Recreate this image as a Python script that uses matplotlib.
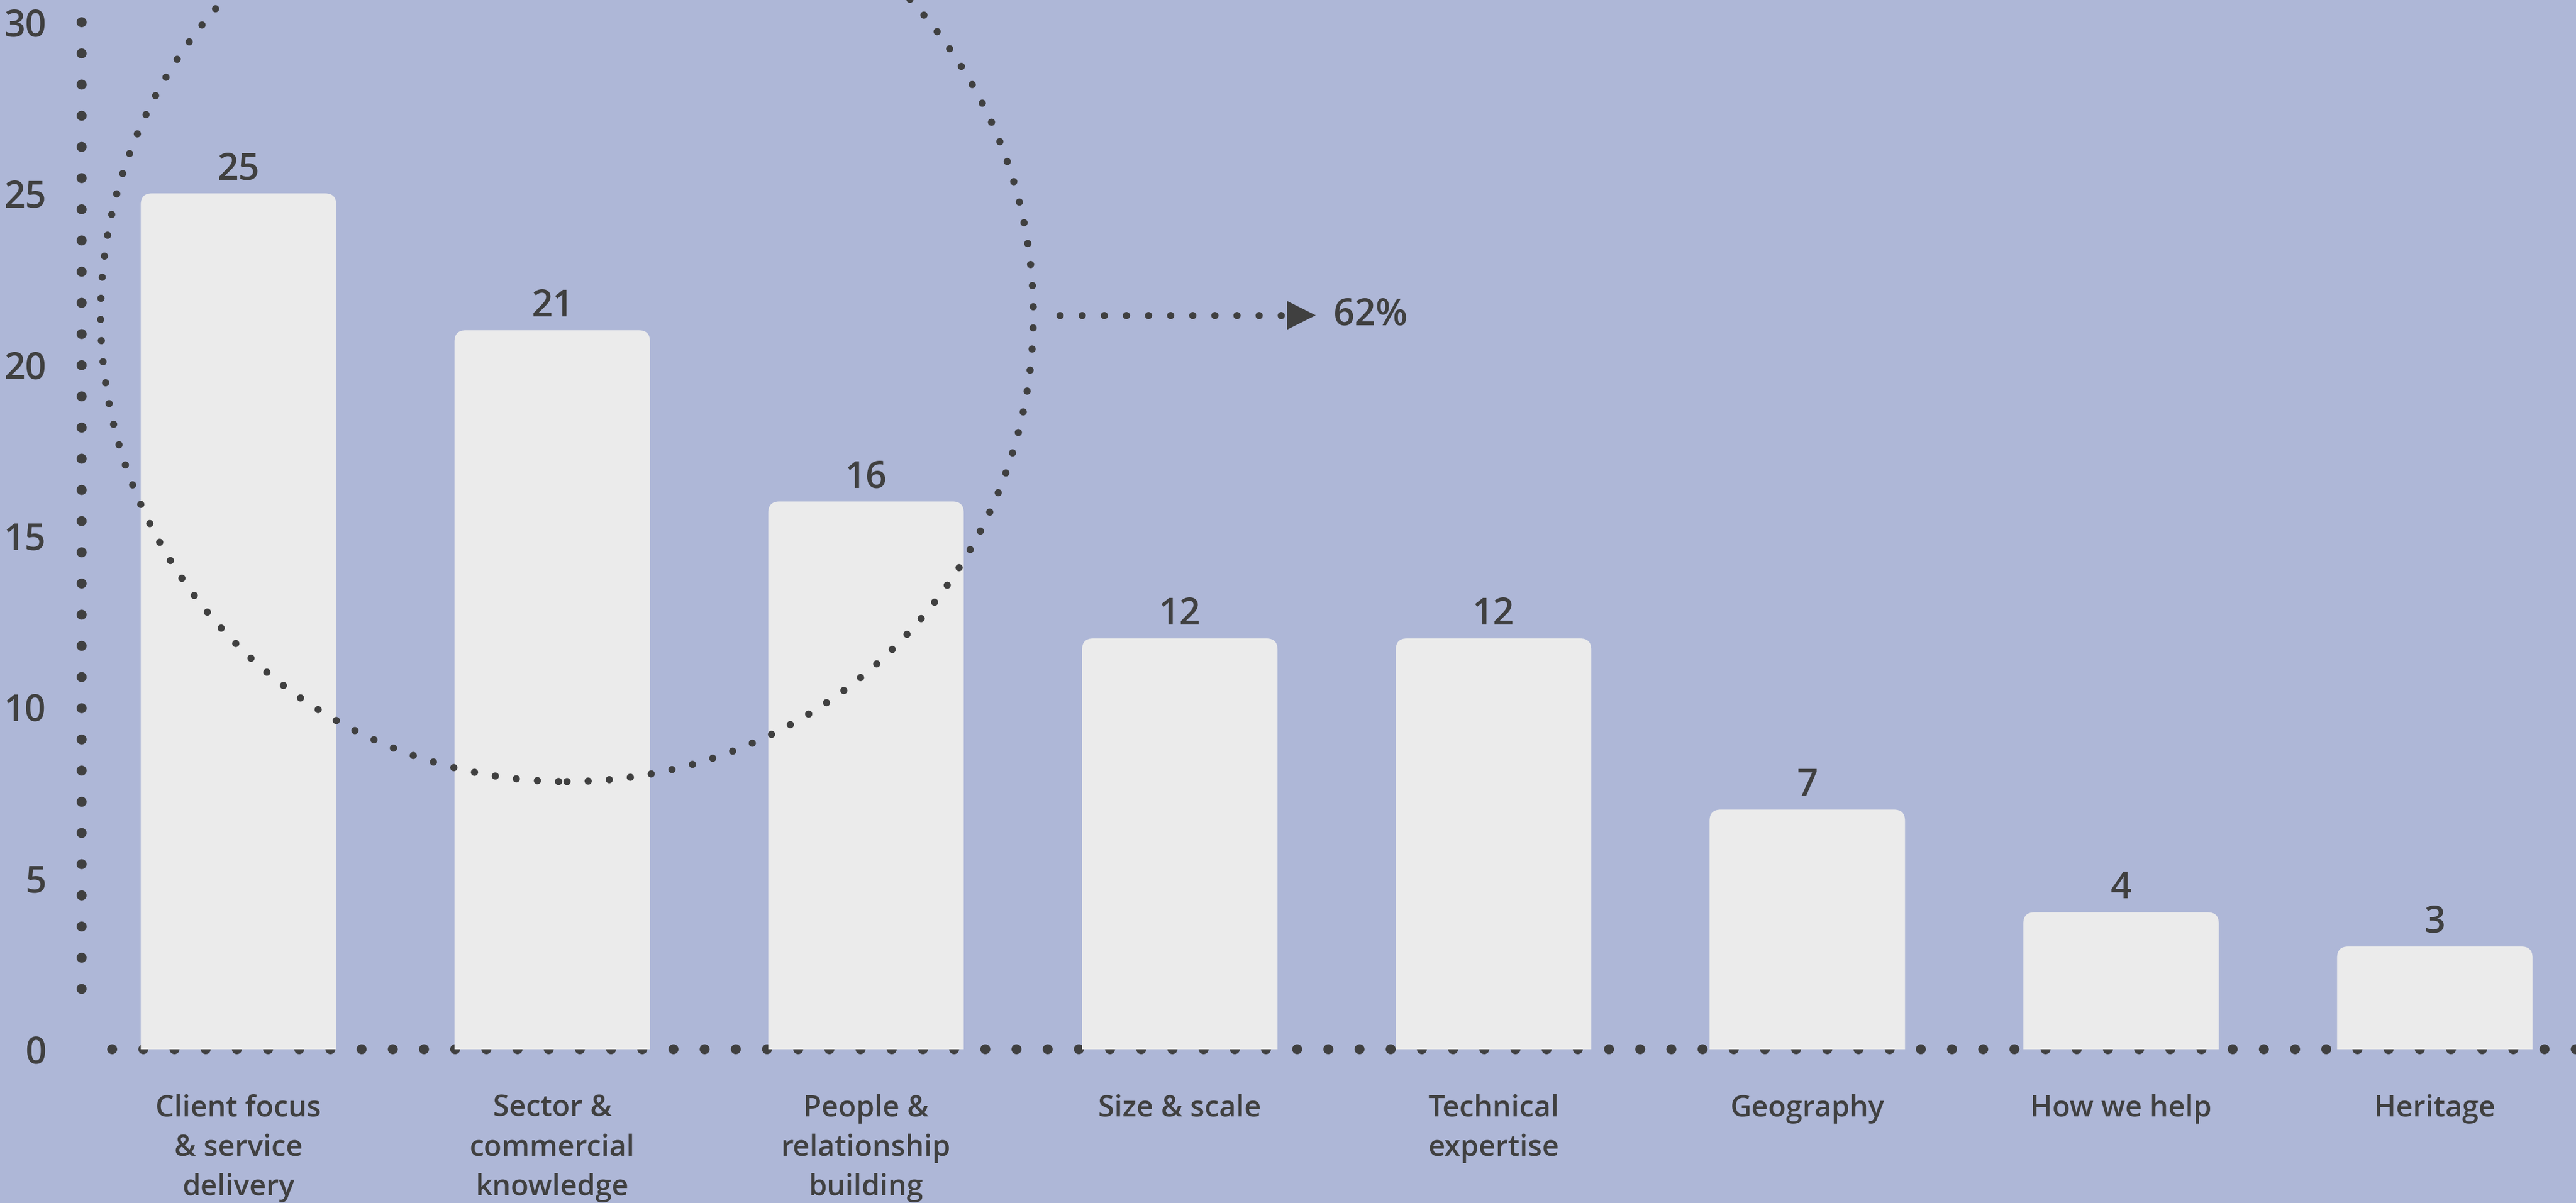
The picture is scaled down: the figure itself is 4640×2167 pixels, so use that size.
import matplotlib
matplotlib.use("Agg")
import matplotlib.pyplot as plt
from matplotlib.path import Path
from matplotlib.patches import PathPatch, Ellipse

# ---- data ----
categories = ["Client focus\n& service\ndelivery", "Sector &\ncommercial\nknowledge",
              "People &\nrelationship\nbuilding", "Size & scale", "Technical\nexpertise",
              "Geography", "How we help", "Heritage"]
values = [25, 21, 16, 12, 12, 7, 4, 3]
y_ticks = [0, 5, 10, 15, 20, 25, 30]
highlight_label = "62%"

# ---- style ----
BG = "#AEB7D7"
BAR = "#EBEBEB"
INK = "#404040"
plt.rcParams['font.family'] = ['Open Sans', 'DejaVu Sans']
WEIGHT = 'semibold'

W, H, DPI = 4640, 2167, 200
fig = plt.figure(figsize=(W / DPI, H / DPI), dpi=DPI, facecolor=BG)
ax = fig.add_axes([147 / W, (H - 1890) / H, 1 - 147 / W, (1890 - 40) / H])
ax.set_facecolor(BG)
ax.set_xlim(-0.5, 7.45)
ax.set_ylim(0, 30)
for s in ax.spines.values():
    s.set_visible(False)

# pixel scale of data units
p0 = ax.transData.transform((0, 0))
p1 = ax.transData.transform((1, 1))
px_x = p1[0] - p0[0]
px_y = p1[1] - p0[1]

# ---- axis dotted lines ----
ax.plot([0, 0], [1, 55 / 1850], transform=ax.transAxes, color=INK, lw=6.5,
        linestyle=(0, (0.001, 3.11)), dash_capstyle='round', clip_on=False, zorder=1)
ax.plot([55 / 4493, 1.02], [0, 0], transform=ax.transAxes, color=INK, lw=6.5,
        linestyle=(0, (0.001, 3.11)), dash_capstyle='round', clip_on=False, zorder=1)

# ---- bars with rounded top corners ----
bw = 0.623
rx = 20 / px_x
ry = 20 / px_y
for i, v in enumerate(values):
    x0, x1 = i - bw / 2, i + bw / 2
    verts = [(x0, 0), (x0, v - ry), (x0, v), (x0 + rx, v), (x1 - rx, v), (x1, v),
             (x1, v - ry), (x1, 0), (x0, 0)]
    codes = [Path.MOVETO, Path.LINETO, Path.CURVE3, Path.CURVE3, Path.LINETO,
             Path.CURVE3, Path.CURVE3, Path.LINETO, Path.CLOSEPOLY]
    ax.add_patch(PathPatch(Path(verts, codes), facecolor=BAR, edgecolor='none', zorder=2))
    ax.annotate(str(v), (i, v), xytext=(0, 9), textcoords='offset points',
                ha='center', va='baseline', fontsize=24, color=INK, zorder=4,
                fontweight=WEIGHT)

# ---- ticks ----
ax.set_xticks(range(len(categories)))
ax.set_xticklabels(categories, fontsize=19, color=INK, linespacing=1.45,
                   fontweight=WEIGHT)
ax.set_yticks(y_ticks)
ax.set_yticklabels([str(t) for t in y_ticks], fontsize=24, color=INK, fontweight=WEIGHT)
ax.tick_params(axis='x', length=0, pad=29)
ax.tick_params(axis='y', length=0, pad=23)

# ---- highlight circle and arrow ----
cx, cy = 1.047, 21.44
rxc, ryc = 840 / px_x, 840 / px_y
circ = Ellipse((cx, cy), 2 * rxc, 2 * ryc, fill=False, edgecolor=INK, lw=4.7,
               linestyle=(0, (0.001, 2.92)), clip_on=False, zorder=3)
circ.set_capstyle('round')
ax.add_patch(circ)

ax_start = cx + rxc + 48 / px_x
ax_end = ax_start + 405 / px_x
ax.plot([ax_start, ax_end], [cy, cy], color=INK, lw=4.7,
        linestyle=(0, (0.001, 3.05)), dash_capstyle='round', clip_on=False, zorder=3)
tri_x = ax_end + 30 / px_x
ax.plot([tri_x], [cy], marker='>', markersize=19, color=INK, markeredgewidth=0,
        clip_on=False, zorder=3)
ax.text(tri_x + 58 / px_x, cy, highlight_label, ha='left', va='center',
        fontsize=24, color=INK, zorder=4, fontweight=WEIGHT)

fig.savefig("out.png", dpi=DPI, facecolor=BG)
